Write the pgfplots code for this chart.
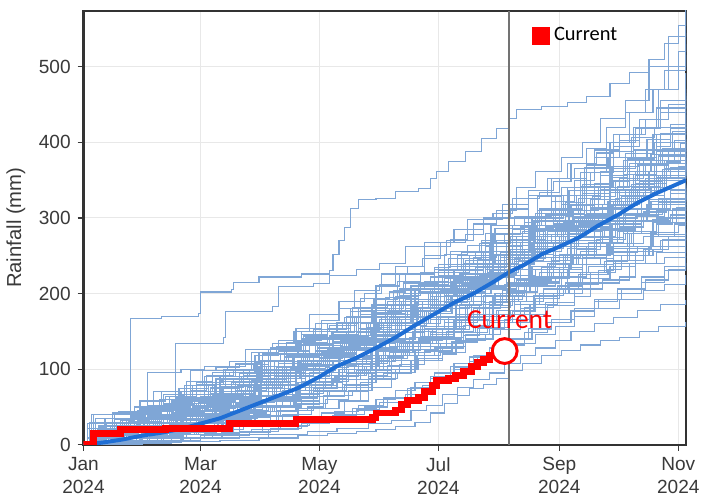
\documentclass[border=0pt]{standalone}
\usepackage{fontspec}
\setmainfont{Liberation Sans}
\newfontfamily\carlito{Carlito}
\usepackage{pgfplots}
\pgfplotsset{compat=1.18}

\definecolor{ensblue}{HTML}{7FA6D6}
\definecolor{meanblue}{HTML}{1F6ED4}
\definecolor{curred}{HTML}{FF0000}
\definecolor{txtgray}{HTML}{3A3A3A}

\begin{document}
\begin{tikzpicture}
\begin{axis}[
    name=ax,
    scale only axis,
    width=305.5bp, height=220bp,
    xmin=0, xmax=309,
    ymin=0, ymax=574,
    xtick={0,60,121,182,244,305},
    xticklabels={Jan\\2024,Mar\\2024,May\\2024,Jul\\2024,Sep\\2024,Nov\\2024},
    xticklabel style={align=center, font=\fontsize{9.7}{11.5}\selectfont, text=txtgray},
    ytick={0,100,200,300,400,500},
    yticklabel style={font=\fontsize{9.7}{11.5}\selectfont, text=txtgray},
    /pgf/number format/assume math mode=true,
    ylabel={Rainfall (mm)},
    ylabel style={at={(axis description cs:-0.112,0.5)}, anchor=center, font=\fontsize{10.3}{12}\selectfont, text=txtgray},
    tick align=outside,
    xtick pos=bottom, ytick pos=left,
    major tick length=3bp,
    tick style={line width=0.6bp, draw=txtgray},
    grid=major,
    grid style={line width=0.5bp, draw=black!9},
    axis line style={line width=1.2bp, draw=black!80},
    legend style={at={(rel axis cs:0.741,0.943)}, anchor=west, draw=none, fill=none,
        font=\carlito\fontsize{10.4}{12}\selectfont, inner sep=1bp},
    ens/.style={const plot, color=ensblue, line width=0.6bp, forget plot},
]
% ensemble of past years (cumulative rainfall, mm, by day of year)
\addplot[ens] coordinates {(0,0)(10,4)(23,8)(24,167)(40,170)(59,174)(60,202)(76,205)(77,215)(90,222)(112,226)(126,230)(128,252)(131,270)(134,287)(137,313)(141,324)(150,326)(160,335)(172,339)(178,352)(181,362)(187,375)(196,388)(204,405)(212,418)(218,432)(222,444)(235,448)(248,453)(258,461)(270,478)(280,492)(290,510)(298,531)(305,555)(309,572)};
\addplot[ens] coordinates {(0,0)(12,6)(30,18)(46,30)(47,134)(72,142)(73,176)(97,183)(100,209)(118,213)(126,224)(140,232)(152,240)(165,262)(175,268)(190,285)(205,298)(215,318)(228,330)(240,352)(252,365)(262,390)(275,402)(285,430)(296,455)(309,470)};
\addplot[ens] coordinates {(0,0)(8,20)(20,28)(35,40)(50,62)(62,70)(80,95)(92,120)(110,135)(125,160)(138,182)(150,210)(162,225)(175,250)(186,270)(200,292)(212,310)(222,340)(232,362)(245,380)(256,400)(265,432)(278,455)(290,500)(300,540)(309,585)};
\addplot[ens] coordinates {(0,0)(5,40)(25,44)(45,55)(70,90)(85,98)(100,110)(115,120)(128,150)(140,168)(155,185)(170,200)(185,220)(195,240)(210,262)(220,290)(235,312)(248,340)(260,360)(272,395)(285,420)(295,470)(305,520)(309,530)};
\addplot[ens] coordinates {(0,0)(10,5)(30,15)(55,30)(68,60)(90,78)(105,92)(118,110)(132,130)(142,160)(155,178)(168,200)(180,215)(195,240)(206,262)(218,280)(230,300)(242,330)(255,360)(268,400)(280,440)(292,470)(300,500)(309,515)};
\addplot[ens] coordinates {(0,0)(15,10)(28,45)(50,52)(65,75)(80,88)(95,100)(110,105)(125,125)(140,150)(150,175)(163,190)(178,205)(190,230)(205,250)(218,268)(232,300)(245,330)(258,370)(270,400)(283,418)(296,440)(309,492)};
\addplot[ens] coordinates {(0,0)(20,3)(40,8)(62,15)(80,30)(100,45)(118,70)(135,95)(150,125)(165,160)(178,185)(192,210)(205,240)(218,270)(230,300)(240,330)(252,350)(262,380)(275,410)(288,430)(300,450)(309,465)};
\addplot[ens] coordinates {(0,0)(8,12)(22,20)(33,96)(50,100)(62,104)(75,110)(88,118)(100,126)(112,140)(122,152)(135,170)(148,185)(160,196)(172,212)(185,228)(198,250)(210,268)(220,285)(232,300)(245,318)(258,340)(270,365)(283,390)(296,412)(309,436)};
\addplot[ens] coordinates {(0,0)(5,40)(18,44)(30,48)(42,55)(55,98)(68,102)(80,108)(92,120)(104,135)(118,150)(130,162)(142,178)(155,195)(168,210)(180,232)(192,250)(204,268)(216,280)(228,300)(240,322)(252,340)(265,362)(278,385)(292,410)(309,450)};
\addplot[ens] coordinates {(0,0)(12,15)(28,24)(40,70)(56,78)(68,88)(82,100)(96,128)(110,138)(122,150)(136,162)(148,175)(160,190)(172,205)(184,222)(196,236)(208,252)(220,270)(232,290)(244,312)(256,332)(270,350)(284,370)(296,388)(309,405)};
\addplot[ens] coordinates {(0,0)(3,30)(20,35)(38,45)(52,70)(66,90)(80,96)(94,104)(108,116)(120,128)(134,145)(147,160)(158,172)(170,192)(182,210)(194,226)(206,238)(218,250)(230,268)(242,286)(254,300)(266,318)(280,336)(294,352)(309,368)};
\addplot[ens] coordinates {(0,0)(10,8)(26,20)(44,32)(60,45)(74,66)(88,82)(104,100)(118,118)(132,138)(146,160)(158,185)(170,205)(182,230)(194,255)(206,280)(218,300)(228,330)(238,352)(248,372)(258,392)(268,420)(278,440)(288,470)(298,495)(309,545)};
\addplot[ens] coordinates {(0,0)(6,5)(20,12)(38,22)(55,40)(70,52)(84,64)(98,80)(112,100)(126,120)(140,138)(154,160)(168,180)(182,200)(196,225)(210,250)(222,275)(234,300)(246,330)(258,360)(270,388)(282,420)(294,445)(309,462)};
\addplot[ens] coordinates {(0,0)(4,6)(9,14)(25,16)(31,30)(48,34)(52,41)(70,48)(77,66)(83,70)(101,82)(106,101)(124,112)(131,128)(139,133)(150,158)(163,166)(171,182)(186,190)(193,214)(207,226)(214,248)(231,255)(238,278)(255,290)(262,318)(279,330)(288,352)(301,366)(309,375)};
\addplot[ens] coordinates {(0,0)(11,3)(19,9)(38,12)(44,27)(59,31)(66,38)(82,56)(97,61)(103,79)(119,84)(124,105)(140,113)(148,126)(160,148)(175,153)(181,170)(196,184)(204,196)(219,212)(228,236)(242,244)(250,266)(266,275)(273,296)(289,305)(297,322)(309,333)};
\addplot[ens] coordinates {(0,0)(2,22)(15,25)(23,31)(40,40)(49,52)(63,58)(71,77)(86,85)(92,98)(110,110)(116,131)(133,140)(141,162)(156,170)(165,192)(179,205)(188,220)(202,238)(210,262)(225,271)(233,296)(247,310)(256,336)(270,348)(280,372)(294,388)(302,410)(309,421)};
\addplot[ens] coordinates {(0,0)(7,2)(26,5)(34,11)(51,14)(57,25)(75,29)(88,45)(95,52)(108,66)(120,74)(127,92)(144,98)(152,118)(167,125)(173,143)(190,152)(198,170)(213,178)(221,196)(236,207)(245,228)(259,236)(268,255)(284,262)(291,281)(305,290)(309,296)};
\addplot[ens] coordinates {(0,0)(14,18)(21,22)(36,35)(45,38)(58,55)(72,60)(79,78)(93,84)(99,102)(115,108)(122,125)(137,136)(145,155)(158,168)(168,186)(182,196)(190,218)(205,226)(213,250)(228,262)(236,284)(252,296)(260,318)(275,330)(283,356)(298,365)(309,384)};
\addplot[ens] coordinates {(0,0)(5,9)(13,12)(30,20)(37,28)(54,30)(61,44)(79,50)(85,65)(102,72)(109,90)(126,96)(134,116)(147,128)(155,140)(170,160)(178,166)(193,185)(200,205)(216,212)(224,232)(240,244)(248,260)(263,272)(271,292)(286,303)(295,325)(309,340)};
\addplot[ens] coordinates {(0,0)(10,12)(17,28)(35,34)(42,40)(56,62)(68,66)(76,82)(90,92)(98,110)(112,118)(119,142)(135,150)(142,172)(157,180)(164,200)(180,212)(187,236)(202,245)(209,268)(225,280)(232,306)(248,318)(255,342)(271,356)(279,380)(294,395)(301,418)(309,430)};
\addplot[ens] coordinates {(0,0)(19,4)(27,8)(42,10)(50,18)(65,22)(73,35)(89,40)(96,52)(112,58)(118,72)(133,80)(140,98)(156,105)(163,122)(178,130)(186,148)(201,156)(208,172)(224,180)(231,198)(246,206)(254,225)(269,232)(276,250)(292,258)(300,275)(309,282)};
\addplot[ens] coordinates {(0,0)(3,15)(12,18)(28,32)(34,36)(47,52)(60,56)(68,70)(84,76)(91,95)(106,102)(113,120)(128,128)(136,150)(151,160)(159,178)(174,190)(182,210)(197,218)(205,240)(220,252)(228,275)(243,285)(251,305)(266,318)(274,342)(290,352)(298,376)(309,390)};
\addplot[ens] coordinates {(0,0)(8,6)(16,10)(33,15)(39,24)(57,28)(64,40)(80,45)(87,58)(104,66)(111,80)(128,88)(135,104)(151,112)(157,130)(173,140)(181,156)(196,165)(203,182)(219,190)(227,210)(242,220)(249,238)(265,246)(272,266)(287,275)(295,294)(309,305)};
\addplot[ens] coordinates {(0,0)(6,35)(24,38)(32,44)(46,50)(55,62)(69,66)(78,84)(92,92)(100,108)(114,116)(121,134)(138,142)(145,162)(160,172)(168,190)(183,200)(191,222)(206,232)(214,255)(229,266)(237,290)(252,300)(260,324)(275,338)(283,362)(299,374)(306,398)(309,402)};
\addplot[ens] coordinates {(0,0)(13,10)(22,14)(39,20)(47,25)(62,36)(70,40)(85,55)(94,60)(109,76)(117,82)(131,100)(139,108)(154,126)(162,134)(177,152)(185,162)(200,180)(208,190)(223,210)(231,220)(246,238)(254,250)(269,268)(277,280)(292,298)(300,310)(309,320)};
\addplot[ens] coordinates {(0,0)(9,20)(20,24)(37,30)(43,45)(61,50)(66,65)(82,72)(89,88)(105,96)(112,115)(127,124)(134,142)(150,152)(156,172)(172,182)(179,202)(194,212)(201,235)(217,245)(224,268)(240,278)(247,302)(262,312)(270,336)(285,348)(293,372)(309,388)};
\addplot[ens] coordinates {(0,0)(16,2)(31,5)(45,8)(53,14)(68,18)(77,28)(92,32)(99,45)(115,50)(123,65)(138,70)(146,88)(161,95)(168,112)(184,120)(191,138)(206,146)(214,162)(229,170)(237,188)(252,196)(260,214)(275,222)(283,240)(298,248)(309,262)};
\addplot[ens] coordinates {(0,0)(4,12)(18,15)(27,26)(44,30)(50,48)(64,52)(74,64)(88,70)(95,88)(111,94)(118,112)(132,122)(140,140)(155,150)(162,170)(177,178)(185,198)(199,208)(207,228)(222,238)(230,260)(245,270)(253,294)(268,304)(276,328)(291,340)(299,362)(309,372)};
\addplot[ens] coordinates {(0,0)(12,8)(20,22)(36,25)(44,32)(60,40)(67,52)(83,58)(91,74)(106,80)(114,98)(129,106)(137,125)(152,134)(160,152)(175,160)(183,180)(198,190)(206,210)(221,220)(229,242)(244,252)(252,274)(267,284)(275,306)(290,318)(298,338)(309,350)};
\addplot[ens] coordinates {(0,0)(7,4)(14,8)(29,12)(38,16)(55,20)(62,26)(77,34)(86,38)(101,50)(110,55)(125,70)(133,76)(148,92)(156,100)(171,118)(180,128)(195,145)(203,155)(218,172)(226,182)(241,200)(249,212)(264,230)(272,240)(288,258)(296,270)(309,285)};
\addplot[ens] coordinates {(0,0)(2,10)(10,26)(26,30)(33,46)(49,52)(56,66)(72,74)(80,90)(96,98)(103,116)(119,124)(126,144)(142,152)(149,174)(165,184)(172,206)(188,216)(195,238)(211,250)(218,272)(234,284)(241,306)(257,318)(264,340)(280,352)(287,376)(303,390)(309,400)};
\addplot[ens] coordinates {(0,0)(15,6)(23,12)(40,15)(48,22)(63,26)(71,38)(87,44)(94,60)(110,66)(117,82)(133,90)(141,108)(156,116)(164,134)(179,142)(187,162)(202,172)(210,192)(225,202)(233,222)(248,232)(256,252)(271,262)(279,282)(294,292)(302,312)(309,318)};
\addplot[ens] coordinates {(0,0)(10,16)(18,20)(34,28)(41,40)(58,44)(65,62)(81,68)(88,84)(103,92)(111,110)(126,118)(134,138)(149,146)(157,166)(172,176)(180,196)(195,206)(203,226)(218,236)(226,258)(241,268)(249,290)(264,300)(272,322)(287,334)(295,356)(309,372)};
\addplot[ens] coordinates {(0,0)(5,10)(12,28)(24,36)(35,52)(44,64)(58,80)(66,96)(78,108)(90,122)(100,138)(112,150)(126,158)(140,168)(156,176)(170,186)(188,196)(204,206)(222,218)(240,228)(256,238)(272,250)(290,262)(309,275)};
\addplot[ens] coordinates {(0,0)(20,2)(40,5)(60,8)(80,14)(95,20)(110,30)(122,42)(134,58)(146,76)(158,96)(170,118)(182,140)(194,164)(206,188)(218,210)(230,236)(242,262)(254,288)(266,312)(278,338)(290,362)(300,384)(309,400)};
\addplot[ens] coordinates {(0,0)(9,8)(30,14)(41,30)(55,34)(67,50)(80,58)(95,70)(105,90)(118,96)(128,112)(140,128)(152,140)(165,158)(176,176)(188,190)(200,212)(211,228)(223,244)(236,266)(248,280)(259,302)(272,316)(284,336)(296,350)(309,368)};
\addplot[ens] coordinates {(0,0)(14,20)(26,24)(39,40)(52,44)(64,58)(77,62)(91,76)(102,88)(114,100)(126,118)(139,128)(150,146)(162,160)(175,178)(186,196)(198,214)(210,228)(222,250)(234,268)(246,284)(258,302)(270,322)(282,340)(294,362)(309,380)};
\addplot[ens] coordinates {(0,0)(18,6)(33,20)(47,24)(58,38)(71,42)(84,60)(97,66)(110,82)(121,92)(133,108)(145,118)(157,136)(169,150)(181,168)(193,182)(205,198)(217,214)(229,232)(241,250)(253,270)(265,286)(277,304)(289,318)(301,336)(309,345)};
\addplot[ens] coordinates {(0,0)(3,5)(16,8)(28,18)(42,22)(55,28)(69,36)(82,44)(96,52)(108,62)(120,72)(133,86)(146,98)(158,112)(170,126)(182,142)(195,158)(208,170)(221,186)(234,200)(247,214)(260,228)(273,244)(287,258)(300,272)(309,280)};
\addplot[ens] coordinates {(0,0)(7,14)(19,22)(31,26)(45,42)(57,50)(70,64)(83,80)(96,92)(109,104)(122,122)(134,138)(146,150)(158,168)(171,186)(183,200)(195,220)(207,238)(219,258)(231,276)(243,296)(255,318)(267,340)(279,362)(291,384)(303,402)(309,410)};
\addplot[ens] coordinates {(0,0)(11,3)(23,8)(37,12)(49,20)(61,24)(74,36)(87,44)(99,58)(111,68)(123,84)(135,94)(147,110)(159,122)(172,140)(184,152)(196,170)(208,184)(220,202)(232,216)(244,234)(256,248)(268,266)(281,280)(294,300)(309,314)};
\addplot[ens] coordinates {(0,0)(6,22)(17,26)(29,34)(41,38)(53,52)(65,58)(78,72)(90,80)(102,96)(114,104)(126,122)(138,132)(150,150)(162,160)(174,180)(186,192)(198,212)(210,226)(222,246)(234,260)(246,282)(258,296)(270,318)(282,334)(294,356)(309,376)};
\addplot[ens] coordinates {(0,0)(21,4)(34,10)(46,14)(59,24)(72,30)(85,44)(97,52)(109,66)(121,76)(133,92)(145,104)(157,122)(169,134)(181,154)(193,168)(205,188)(217,202)(229,222)(241,238)(253,258)(265,274)(277,296)(289,312)(301,332)(309,342)};
\addplot[ens] coordinates {(0,0)(4,16)(15,20)(27,30)(38,36)(51,48)(63,54)(76,68)(88,76)(100,92)(113,100)(125,118)(137,128)(149,146)(161,158)(173,176)(185,188)(197,208)(209,222)(221,242)(233,256)(245,278)(257,292)(269,314)(281,330)(293,352)(305,368)(309,372)};
\addplot[ens] coordinates {(0,0)(13,8)(25,12)(36,22)(48,26)(60,38)(73,44)(86,56)(98,62)(111,76)(124,84)(136,100)(148,110)(160,126)(172,138)(184,154)(196,166)(208,184)(220,196)(232,214)(244,228)(256,246)(268,260)(280,280)(292,294)(304,314)(309,318)};
\addplot[ens] coordinates {(0,0)(10,10)(26,14)(40,22)(58,30)(72,42)(88,52)(102,64)(116,78)(130,92)(144,104)(158,118)(172,134)(186,150)(200,164)(212,178)(224,190)(236,206)(248,222)(258,250)(270,262)(282,296)(294,310)(309,330)};
\addplot[ens] coordinates {(0,0)(8,26)(20,30)(35,40)(47,46)(60,60)(72,66)(86,82)(98,90)(111,106)(123,116)(136,132)(148,144)(160,162)(173,176)(185,196)(197,210)(209,230)(221,246)(233,266)(245,282)(257,304)(269,322)(281,344)(293,362)(309,386)};
\addplot[ens] coordinates {(0,0)(17,10)(30,14)(43,26)(56,30)(68,44)(81,50)(94,64)(107,72)(119,88)(131,96)(143,114)(155,124)(167,142)(179,154)(191,172)(203,186)(215,204)(227,218)(239,238)(251,252)(263,272)(275,288)(287,308)(299,324)(309,338)};
\addplot[ens] coordinates {(0,0)(2,8)(14,12)(26,20)(39,24)(51,34)(64,40)(77,52)(89,58)(102,72)(114,80)(127,96)(139,106)(151,124)(163,136)(175,154)(187,168)(199,186)(211,200)(223,218)(235,234)(247,252)(259,268)(271,286)(283,302)(295,320)(309,336)};
\addplot[ens] coordinates {(0,0)(12,18)(24,24)(37,36)(49,42)(62,56)(74,64)(87,80)(99,88)(112,106)(124,116)(137,136)(149,148)(161,168)(174,182)(186,204)(198,218)(210,240)(222,256)(234,278)(246,294)(258,318)(270,334)(282,358)(294,376)(309,398)};
\addplot[ens] coordinates {(0,0)(9,4)(21,6)(33,12)(46,16)(58,22)(71,28)(84,36)(96,44)(109,54)(121,64)(134,78)(146,90)(158,104)(171,118)(183,134)(195,148)(207,164)(219,178)(231,196)(243,210)(255,228)(267,242)(279,260)(291,276)(303,292)(309,298)};
\addplot[ens] coordinates {(0,0)(5,30)(16,34)(28,42)(40,48)(53,60)(65,68)(78,82)(90,92)(103,108)(115,118)(128,136)(140,148)(152,166)(165,180)(177,200)(189,214)(201,234)(213,250)(225,272)(237,288)(249,310)(261,328)(273,350)(285,370)(297,392)(309,412)};
\addplot[ens] coordinates {(0,0)(15,12)(28,16)(42,24)(54,28)(66,40)(79,46)(92,60)(104,66)(117,82)(129,90)(141,108)(153,118)(165,136)(178,148)(190,166)(202,180)(214,198)(226,212)(238,232)(250,246)(262,266)(274,282)(286,302)(298,318)(309,330)};
\addplot[ens] coordinates {(0,0)(20,2)(45,4)(70,6)(90,9)(110,12)(125,15)(140,18)(150,20)(160,24)(170,30)(178,42)(185,55)(192,65)(198,74)(205,80)(212,88)(218,98)(225,108)(235,118)(245,125)(255,132)(265,138)(275,142)(285,150)(295,156)(309,163)};
\addplot[ens] coordinates {(0,0)(25,3)(50,8)(72,10)(95,14)(115,18)(130,22)(146,28)(158,32)(168,45)(176,52)(184,66)(192,76)(200,86)(208,95)(216,108)(224,118)(232,128)(242,138)(250,150)(262,160)(272,168)(284,178)(296,186)(309,192)};
\addplot[ens] coordinates {(0,0)(15,5)(40,8)(60,12)(85,18)(100,24)(115,30)(128,38)(140,46)(152,56)(165,66)(174,78)(182,88)(190,100)(198,110)(206,118)(214,126)(222,134)(232,146)(242,156)(252,170)(262,180)(275,192)(287,204)(298,212)(309,225)};
\addplot[ens] coordinates {(0,0)(30,4)(55,10)(80,16)(96,22)(112,28)(126,36)(138,48)(150,60)(160,72)(170,82)(180,95)(190,108)(200,118)(210,130)(220,140)(230,152)(240,166)(250,178)(262,190)(274,200)(286,215)(298,230)(309,240)};
\addplot[ens] coordinates {(0,0)(6,18)(15,42)(29,48)(36,70)(52,78)(61,98)(74,104)(83,126)(97,134)(108,150)(116,172)(131,180)(139,204)(152,212)(160,236)(174,246)(183,268)(196,278)(205,300)(219,312)(228,336)(241,348)(250,372)(263,386)(272,410)(286,420)(294,446)(309,458)};
\addplot[ens] coordinates {(0,0)(9,6)(24,30)(37,34)(45,58)(60,64)(68,86)(84,92)(91,112)(105,120)(114,142)(128,150)(137,170)(150,180)(159,204)(173,214)(182,238)(195,246)(204,270)(218,280)(226,302)(240,312)(249,336)(262,346)(271,368)(285,378)(293,400)(309,412)};
\addplot[ens] coordinates {(0,0)(3,4)(17,9)(31,14)(38,36)(53,40)(59,56)(76,62)(81,80)(98,86)(104,104)(120,112)(126,134)(143,140)(149,160)(165,168)(171,190)(187,200)(193,222)(210,230)(216,252)(232,260)(238,282)(254,292)(260,314)(277,322)(283,346)(299,356)(309,370)};
\addplot[ens] coordinates {(0,0)(14,5)(29,9)(44,14)(58,20)(73,26)(88,32)(102,40)(117,48)(131,58)(142,82)(150,100)(158,118)(166,136)(174,156)(182,170)(191,190)(199,205)(207,222)(216,236)(226,250)(236,262)(247,276)(258,288)(270,300)(284,312)(297,326)(309,336)};
\addplot[ens] coordinates {(0,0)(2,28)(19,32)(26,50)(41,54)(49,74)(64,80)(72,100)(87,106)(95,126)(110,132)(118,152)(133,160)(141,182)(156,190)(164,214)(178,222)(187,246)(201,254)(210,278)(224,288)(233,310)(247,320)(256,344)(270,354)(279,378)(293,390)(302,414)(309,420)};
\addplot[ens] coordinates {(0,0)(22,3)(37,6)(51,10)(66,14)(80,18)(92,24)(104,30)(117,36)(129,44)(141,52)(154,62)(166,74)(178,88)(190,102)(202,118)(214,132)(226,148)(238,162)(250,176)(262,192)(274,206)(286,222)(298,236)(309,250)};
\addplot[ens] coordinates {(0,0)(10,20)(25,24)(33,38)(48,44)(57,60)(71,66)(79,80)(94,88)(102,104)(117,110)(125,126)(140,134)(148,152)(163,160)(171,176)(186,184)(194,200)(209,208)(217,224)(232,232)(240,248)(255,256)(263,272)(278,280)(286,296)(301,304)(309,312)};
\addplot[ens] coordinates {(0,0)(7,10)(21,14)(34,22)(46,34)(59,40)(71,56)(85,64)(97,84)(109,94)(121,114)(133,126)(145,148)(157,162)(169,186)(181,200)(193,226)(205,244)(217,268)(229,286)(241,312)(253,330)(265,356)(277,376)(289,404)(301,424)(309,442)};
\addplot[ens] coordinates {(0,0)(16,12)(27,16)(41,28)(53,32)(66,48)(78,54)(91,70)(103,78)(116,96)(128,106)(140,126)(152,138)(165,160)(177,174)(189,196)(201,210)(213,232)(225,246)(237,268)(249,282)(261,304)(273,318)(285,340)(297,354)(309,376)};
\addplot[ens] coordinates {(0,0)(11,2)(26,4)(41,8)(56,10)(71,16)(86,20)(101,26)(116,32)(130,40)(144,50)(156,62)(168,76)(178,90)(188,104)(198,116)(208,128)(218,140)(228,154)(240,166)(252,180)(264,192)(276,206)(288,218)(300,232)(309,240)};
\addplot[ens] coordinates {(0,0)(4,40)(21,44)(33,52)(45,56)(56,70)(70,76)(82,92)(95,98)(107,116)(121,124)(133,144)(146,152)(158,172)(171,182)(183,204)(196,214)(208,236)(221,248)(233,270)(246,282)(258,306)(271,318)(283,342)(296,356)(309,380)};
\addplot[ens] coordinates {(0,0)(13,14)(24,18)(37,26)(50,30)(62,46)(75,52)(87,60)(99,78)(112,84)(124,102)(136,110)(148,128)(161,136)(173,156)(185,166)(197,186)(210,196)(222,218)(234,228)(246,250)(258,262)(270,284)(283,296)(295,318)(309,334)};
\addplot[ens] coordinates {(0,0)(5,10)(11,35)(27,40)(39,60)(51,66)(62,90)(75,96)(88,118)(100,124)(112,146)(125,154)(137,176)(150,184)(162,206)(175,216)(187,238)(200,248)(212,270)(225,282)(237,304)(250,316)(262,340)(275,352)(287,376)(300,388)(309,402)};
\addplot[ens] coordinates {(0,0)(18,8)(32,12)(44,20)(57,26)(69,34)(82,42)(94,52)(106,62)(118,74)(130,86)(142,100)(154,114)(166,130)(178,146)(190,164)(202,182)(214,200)(226,220)(238,240)(250,262)(262,284)(274,306)(286,330)(298,352)(309,372)};
\addplot[ens] coordinates {(0,0)(8,2)(23,4)(38,10)(53,16)(68,20)(82,30)(96,38)(110,48)(124,60)(136,72)(148,86)(160,100)(172,114)(184,130)(196,146)(208,162)(220,176)(232,194)(244,210)(256,228)(268,244)(280,262)(292,278)(309,292)};
\addplot[ens] coordinates {(0,0)(6,14)(19,18)(31,30)(44,34)(56,50)(69,56)(81,72)(94,80)(106,98)(119,106)(131,126)(144,136)(156,158)(169,168)(181,190)(194,202)(206,226)(219,238)(231,262)(244,276)(256,300)(269,314)(281,340)(294,354)(309,382)};
\addplot[ens] coordinates {(0,0)(3,8)(15,24)(28,30)(40,50)(52,58)(64,80)(77,88)(89,110)(101,120)(113,144)(125,154)(137,180)(149,192)(161,216)(173,228)(185,252)(197,264)(209,290)(221,302)(233,328)(245,340)(257,366)(269,380)(281,406)(293,420)(309,448)};
\addplot[ens] coordinates {(0,0)(14,10)(28,14)(42,18)(56,28)(70,32)(84,44)(98,50)(112,64)(126,70)(140,86)(154,94)(168,112)(182,122)(196,140)(210,152)(224,172)(238,184)(252,206)(266,218)(280,240)(294,254)(309,272)};
\addplot[ens] coordinates {(0,0)(9,24)(23,28)(35,40)(48,46)(60,62)(73,68)(85,86)(98,94)(110,112)(123,120)(135,140)(148,150)(160,172)(173,182)(185,206)(198,216)(210,240)(223,252)(235,276)(248,288)(260,312)(273,326)(285,350)(298,364)(309,390)};
\addplot[ens] coordinates {(0,0)(12,4)(27,8)(40,16)(54,20)(67,32)(81,38)(94,50)(108,58)(121,72)(135,80)(148,96)(162,106)(175,124)(189,136)(202,154)(216,166)(229,186)(243,200)(256,220)(270,236)(283,256)(297,272)(309,290)};
\addplot[ens] coordinates {(0,0)(7,22)(16,40)(30,46)(41,66)(55,72)(63,92)(77,100)(86,122)(99,130)(109,154)(122,164)(131,190)(144,200)(153,226)(166,236)(175,262)(188,272)(197,298)(210,306)(220,326)(234,334)(244,352)(258,360)(268,380)(282,390)(294,410)(309,426)};
\addplot[ens] coordinates {(0,0)(4,14)(20,20)(28,44)(43,50)(50,70)(66,76)(73,98)(89,104)(96,128)(111,136)(119,160)(134,168)(142,194)(157,202)(165,226)(180,234)(188,256)(203,266)(211,286)(226,294)(234,312)(249,320)(257,340)(272,350)(280,372)(295,382)(309,404)};
\addplot[ens] coordinates {(0,0)(11,10)(22,34)(34,40)(47,62)(58,66)(70,84)(81,90)(93,110)(104,118)(116,140)(127,148)(139,168)(150,178)(162,198)(173,210)(185,232)(196,244)(208,266)(219,276)(231,296)(242,306)(254,326)(265,338)(277,358)(288,370)(300,390)(309,398)};
\addplot[ens] coordinates {(0,0)(6,4)(19,30)(33,36)(44,54)(57,58)(67,80)(80,86)(90,104)(103,110)(113,134)(126,140)(136,162)(149,170)(159,194)(172,202)(182,224)(195,232)(205,256)(218,264)(228,284)(241,292)(251,310)(264,318)(274,338)(287,348)(297,364)(309,372)};
\addplot[ens] coordinates {(0,0)(9,16)(21,30)(36,52)(48,60)(58,82)(71,88)(84,96)(95,112)(108,120)(120,134)(133,142)(145,160)(157,168)(170,186)(182,196)(194,212)(206,222)(218,238)(230,248)(242,266)(254,276)(266,296)(278,306)(290,324)(309,340)};
\addplot[ens] coordinates {(0,0)(3,12)(14,26)(29,58)(42,64)(53,84)(66,90)(78,106)(91,112)(103,124)(116,132)(128,146)(141,154)(153,170)(166,178)(178,196)(191,206)(203,224)(216,232)(228,252)(241,262)(253,282)(266,292)(278,312)(291,322)(309,344)};
% mean of the past years
\addplot[meanblue, line width=2bp, forget plot] coordinates {(0,0)(10,3)(20,7)(30,12)(40,16)(50,21)(60,28)(70,35)(80,45)(90,55)(100,65)(110,75)(121,90)(130,104)(140,115)(150,128)(160,142)(170,158)(182,176)(190,188)(200,200)(210,215)(218,228)(226,238)(235,252)(244,262)(254,274)(264,290)(274,304)(284,320)(294,333)(302,342)(309,350)};
% today
\addplot[black!55, line width=1bp, forget plot] coordinates {(218,0)(218,574)};
% current year
\addplot[const plot, curred, line width=3.5bp, forget plot] coordinates {(0,0)(4,1)(5,15)(19,20)(42,22)(75,28)(109,34)(148,36)(150,42)(160,46)(163,53)(166,59)(172,62)(175,70)(179,78)(181,85)(187,88)(191,92)(195,97)(199,104)(202,109)(205,113)(208,118)(211,123)(216,124)};
\addplot[only marks, mark=*, mark size=6.3bp, mark options={draw=curred, fill=white, line width=1.5bp}, forget plot] coordinates {(216,124)};
\node[text=curred, font=\carlito\fontsize{14}{16}\selectfont] at (axis cs:218.5,166) {Current};
\addlegendimage{legend image code/.code={\fill[curred] (0bp,-4.3bp) rectangle (8.6bp,4.3bp);}}
\addlegendentry{Current}
\end{axis}
\path ([yshift=5.5bp]ax.north);
\end{tikzpicture}
\end{document}
